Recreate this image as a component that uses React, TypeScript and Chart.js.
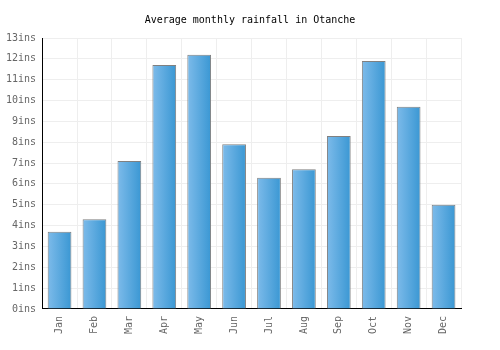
import React, { useEffect, useRef } from "react";
import { Chart, registerables } from "chart.js";

Chart.register(...registerables);

const months = ["Jan", "Feb", "Mar", "Apr", "May", "Jun", "Jul", "Aug", "Sep", "Oct", "Nov", "Dec"];
const rainfall = [3.7, 4.3, 7.1, 11.7, 12.2, 7.9, 6.3, 6.7, 8.3, 11.9, 9.7, 5.0];
const titleText = "Average monthly rainfall in Otanche";
const unit = "ins";

const BAR_PCT = 0.68;

function barGradient(c: any) {
  const chart = c.chart;
  const xs = chart.scales?.x;
  if (!xs || c.dataIndex === undefined) return "#5aa9e0";
  const cx = xs.getPixelForValue(c.dataIndex);
  const w = (xs.width / months.length) * BAR_PCT;
  if (!isFinite(cx) || !isFinite(w)) return "#5aa9e0";
  const g = chart.ctx.createLinearGradient(cx - w / 2, 0, cx + w / 2, 0);
  g.addColorStop(0, "#7dbbea");
  g.addColorStop(1, "#3a97d3");
  return g;
}

export default function App() {
  const ref = useRef<HTMLCanvasElement>(null);
  useEffect(() => {
    document.body.style.margin = "0";
    const font = "'DejaVu Sans Mono', monospace";
    const chart = new Chart(ref.current!, {
      type: "bar",
      data: {
        labels: months,
        datasets: [
          {
            data: rainfall,
            backgroundColor: barGradient,
            borderColor: "#808080",
            borderWidth: 1,
            barPercentage: BAR_PCT,
            categoryPercentage: 1,
          },
        ],
      },
      options: {
        animation: false,
        responsive: false,
        maintainAspectRatio: false,
        layout: { padding: { left: 0, right: 0, top: 6, bottom: 9 } },
        plugins: {
          legend: { display: false },
          tooltip: { enabled: false },
          title: {
            display: true,
            text: titleText,
            color: "#000",
            font: { family: font, size: 10, weight: "normal" },
            padding: { top: 8, bottom: 12 },
          },
        },
        scales: {
          x: {
            grid: { color: "#eeeeee", offset: true, drawTicks: false },
            border: { color: "#000", width: 1 },
            ticks: {
              color: "#666",
              font: { family: font, size: 10 },
              maxRotation: 90,
              minRotation: 90,
              padding: 7,
            },
          },
          y: {
            min: 0,
            max: 13,
            grid: { color: "#eeeeee", drawTicks: false },
            border: { color: "#000", width: 1 },
            ticks: {
              stepSize: 1,
              color: "#666",
              font: { family: font, size: 10 },
              padding: 6,
              callback: (v: any) => v + unit,
            },
          },
          yRight: {
            position: "right",
            display: true,
            grid: { display: false, drawTicks: false },
            border: { display: false },
            ticks: { display: false },
            afterFit: (s: any) => {
              s.width = 39;
            },
          },
        },
      },
    });
    return () => chart.destroy();
  }, []);
  return (
    <div style={{ position: "absolute", left: 0, top: 0, width: 500, height: 350 }}>
      <canvas ref={ref} width={500} height={350} />
    </div>
  );
}
